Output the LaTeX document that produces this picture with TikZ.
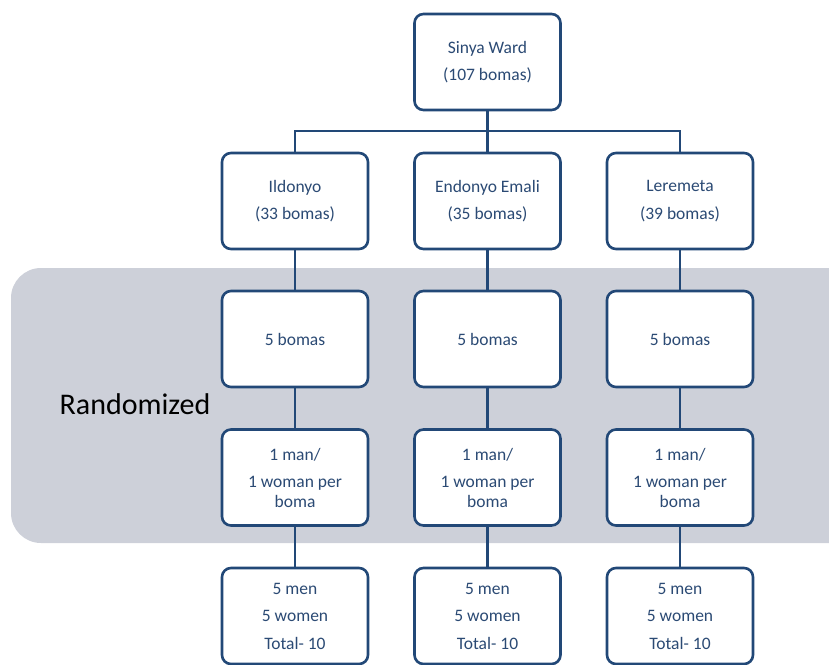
\documentclass[tikz,border=0pt]{standalone}
\usepackage{fontspec}
\setmainfont{Carlito}
\definecolor{navy}{HTML}{224877}
\definecolor{txtblue}{HTML}{2B4A74}
\definecolor{band}{HTML}{CDD0D9}
\begin{document}
\begin{tikzpicture}[x=1pt,y=-1pt,
  box/.style={draw=navy, line width=2.6pt, rounded corners=9pt, fill=white,
    minimum width=146pt, minimum height=96pt, align=center, text=txtblue,
    font=\fontsize{17.5}{19.5}\selectfont, inner sep=0pt},
  link/.style={draw=navy, line width=2.6pt}]
\useasboundingbox (0,0) rectangle (829,664);
\begin{scope}
\clip (0,0) rectangle (829,664);
\fill[band, rounded corners=30pt] (11,268) rectangle (860,543);
\node[font=\fontsize{30}{34}\selectfont, text=black] (rand) at (135,404) {Randomized};
% level 1
\node[box] (top) at (487.5,62) {Sinya Ward\\[8pt](107 bomas)};
% level 2
\node[box] (a1) at (295,201) {Ildonyo\\[8pt](33 bomas)};
\node[box] (b1) at (487.5,201) {Endonyo Emali\\[8pt](35 bomas)};
\node[box] (c1) at (680,201) {Leremeta\\[8pt](39 bomas)};
% level 3
\node[box] (a2) at (295,339) {5 bomas};
\node[box] (b2) at (487.5,339) {5 bomas};
\node[box] (c2) at (680,339) {5 bomas};
% level 4
\node[box] (a3) at (295,477.5) {1 man/\\[8pt]1 woman per\\boma};
\node[box] (b3) at (487.5,477.5) {1 man/\\[8pt]1 woman per\\boma};
\node[box] (c3) at (680,477.5) {1 man/\\[8pt]1 woman per\\boma};
% level 5
\node[box] (a4) at (295,616) {5 men\\[8pt]5 women\\[8pt]Total- 10};
\node[box] (b4) at (487.5,616) {5 men\\[8pt]5 women\\[8pt]Total- 10};
\node[box] (c4) at (680,616) {5 men\\[8pt]5 women\\[8pt]Total- 10};
% connectors
\coordinate (bar) at (487.5,131);
\draw[link] (top.south) -- (bar);
\draw[link] (a1.north) |- (bar) -| (c1.north);
\draw[link] (bar) -- (b1.north);
\foreach \c in {a,b,c}{
  \draw[link] (\c1.south) -- (\c2.north);
  \draw[link] (\c2.south) -- (\c3.north);
  \draw[link] (\c3.south) -- (\c4.north);
}
\end{scope}
\end{tikzpicture}
\end{document}
